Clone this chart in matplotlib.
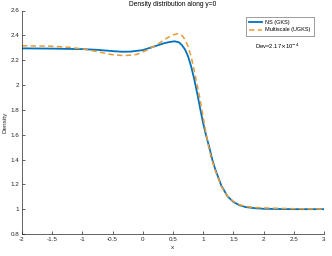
import matplotlib
matplotlib.use('Agg')
import matplotlib.pyplot as plt
from matplotlib.ticker import FormatStrFormatter

plt.rcParams['font.family'] = ['Liberation Sans', 'DejaVu Sans']

# NS (GKS) solution along y=0
ns_x = [-2.0, -1.5, -1.0, -0.75, -0.5, -0.35, -0.2, 0.0, 0.2, 0.35, 0.45, 0.53, 0.6, 0.65,
        0.7, 0.75, 0.8, 0.85, 0.9, 0.95, 1.0, 1.05, 1.1, 1.15, 1.2, 1.3, 1.4, 1.5, 1.6,
        1.7, 1.85, 2.0, 2.5, 3.0]
ns_rho = [2.295, 2.293, 2.289, 2.283, 2.273, 2.268, 2.269, 2.281, 2.312, 2.336, 2.347, 2.352, 2.343, 2.320,
          2.285, 2.230, 2.150, 2.050, 1.935, 1.810, 1.690, 1.590, 1.500, 1.400, 1.320, 1.190, 1.105, 1.058, 1.032,
          1.017, 1.008, 1.003, 1.0, 1.0]

# Multiscale (UGKS) solution along y=0
ms_x = [-2.0, -1.5, -1.25, -1.0, -0.75, -0.5, -0.3, -0.1, 0.1, 0.25, 0.4, 0.5, 0.58, 0.65,
        0.7, 0.75, 0.8, 0.85, 0.9, 0.95, 1.0, 1.07, 1.13, 1.2, 1.3, 1.4, 1.5, 1.6, 1.7,
        1.85, 2.0, 2.5, 3.0]
ms_rho = [2.316, 2.312, 2.305, 2.291, 2.268, 2.244, 2.236, 2.246, 2.288, 2.330, 2.378, 2.403, 2.414, 2.398,
          2.365, 2.310, 2.230, 2.120, 2.000, 1.880, 1.740, 1.545, 1.420, 1.310, 1.185, 1.105, 1.062, 1.036, 1.022,
          1.013, 1.010, 1.004, 1.0]

x_ticks = [-2, -1.5, -1, -0.5, 0, 0.5, 1, 1.5, 2, 2.5, 3]
y_ticks = [0.8, 1.0, 1.2, 1.4, 1.6, 1.8, 2.0, 2.2, 2.4, 2.6]

axis_color = '#262626'

fig = plt.figure(figsize=(3.32, 2.56), dpi=100)
ax = fig.add_axes([22 / 332, 22 / 256, 302 / 332, 223.5 / 256])

ax.plot(ns_x, ns_rho, color='#0072BD', lw=1.3, label='NS (GKS)')
ax.plot(ms_x, ms_rho, color='#EA9A35', lw=1.1, ls=(0, (3.5, 2.2)), label='Multiscale (UGKS)')

ax.set_xlim(-2, 3)
ax.set_ylim(0.8, 2.6)
ax.set_xticks(x_ticks)
ax.set_yticks(y_ticks)
ax.xaxis.set_major_formatter(FormatStrFormatter('%g'))
ax.yaxis.set_major_formatter(FormatStrFormatter('%g'))

for side in ['top', 'right']:
    ax.spines[side].set_visible(False)
for side in ['left', 'bottom']:
    ax.spines[side].set_color(axis_color)
    ax.spines[side].set_linewidth(0.5)
ax.tick_params(direction='in', length=2, width=0.5, colors=axis_color, labelsize=4.5, pad=2)

ax.set_xlabel('x', fontsize=4.6, color=axis_color, labelpad=2)
ax.set_ylabel('Density', fontsize=4.6, color=axis_color, labelpad=2)
ax.set_title('Density distribution along y=0', fontsize=4.8, color='black', pad=3)

leg = ax.legend(loc='upper right', bbox_to_anchor=(0.975, 0.985), fontsize=4, frameon=True,
                fancybox=False, handlelength=2.2, borderpad=0.6, labelspacing=0.45, handletextpad=0.6)
leg.get_frame().set_edgecolor(axis_color)
leg.get_frame().set_linewidth(0.4)

ax.text(0.77, 0.83, r'Dev=2.17$\times$10$^{-4}$', transform=ax.transAxes, fontsize=4.2, color='black')

fig.savefig('out.png', dpi=100)
